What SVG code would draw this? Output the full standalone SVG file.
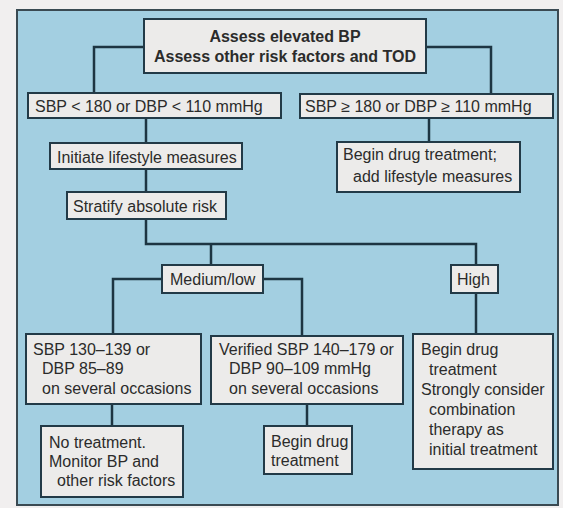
<svg xmlns="http://www.w3.org/2000/svg" width="563" height="508" viewBox="0 0 563 508">
<style>
.box{fill:#ecebea;stroke:#223a47;stroke-width:2}
.t{font-family:"Liberation Sans",Arial,sans-serif;font-size:16px;fill:#2b2b2b}
.b{font-weight:bold}
.c{fill:none;stroke:#1d3542;stroke-width:2.5}
</style>
<rect x="0" y="0" width="563" height="508" fill="#f1efef"/>
<rect x="17" y="10" width="541" height="495" fill="#a3cfe1" stroke="#3a4a52" stroke-width="2"/>
<g id="connectors">
<path class="c" d="M144,47 H94 V93"/>
<path class="c" d="M426,47 H491 V94"/>
<path class="c" d="M146,118 V143"/>
<path class="c" d="M429,118 V142"/>
<path class="c" d="M146,169 V192"/>
<path class="c" d="M146,219 V244 H476 V265"/>
<path class="c" d="M211,244 V265"/>
<path class="c" d="M162,279 H113 V334"/>
<path class="c" d="M263,279 H302 V336"/>
<path class="c" d="M476,293 V334"/>
<path class="c" d="M112,404 V426"/>
<path class="c" d="M307,404 V426"/>
</g>
<g id="assess">
<rect class="box" x="144" y="19" width="282" height="54"/>
<text class="t b" x="285" y="42" text-anchor="middle">Assess elevated BP</text>
<text class="t b" x="285" y="62" text-anchor="middle">Assess other risk factors and TOD</text>
</g>
<g id="sbp-low">
<rect class="box" x="28" y="93" width="253" height="25"/>
<text class="t" x="35" y="112">SBP &lt; 180 or DBP &lt; 110 mmHg</text>
</g>
<g id="sbp-high">
<rect class="box" x="300" y="94" width="253" height="24"/>
<text class="t" x="305" y="112">SBP ≥ 180 or DBP ≥ 110 mmHg</text>
</g>
<g id="lifestyle">
<rect class="box" x="50" y="143" width="192" height="26"/>
<text class="t" x="57" y="163">Initiate lifestyle measures</text>
</g>
<g id="begin-drug-1">
<rect class="box" x="337" y="142" width="183" height="50"/>
<text class="t" x="343" y="160">Begin drug treatment;</text>
<text class="t" x="353" y="182">add lifestyle measures</text>
</g>
<g id="stratify">
<rect class="box" x="67" y="192" width="159" height="27"/>
<text class="t" x="73" y="212">Stratify absolute risk</text>
</g>
<g id="medium-low">
<rect class="box" x="162" y="265" width="101" height="28"/>
<text class="t" x="170" y="285">Medium/low</text>
</g>
<g id="high">
<rect class="box" x="451" y="265" width="47" height="28"/>
<text class="t" x="457" y="285">High</text>
</g>
<g id="sbp-130">
<rect class="box" x="26" y="334" width="175" height="70"/>
<text class="t" x="33" y="355">SBP 130–139 or</text>
<text class="t" x="42" y="374">DBP 85–89</text>
<text class="t" x="42" y="394">on several occasions</text>
</g>
<g id="verified">
<rect class="box" x="211" y="336" width="192" height="68"/>
<text class="t" x="219" y="355">Verified SBP 140–179 or</text>
<text class="t" x="229" y="374">DBP 90–109 mmHg</text>
<text class="t" x="229" y="394">on several occasions</text>
</g>
<g id="begin-drug-high">
<rect class="box" x="413" y="334" width="140" height="135"/>
<text class="t" x="421" y="355">Begin drug</text>
<text class="t" x="429" y="375">treatment</text>
<text class="t" x="421" y="395">Strongly consider</text>
<text class="t" x="429" y="415">combination</text>
<text class="t" x="429" y="435">therapy as</text>
<text class="t" x="429" y="455">initial treatment</text>
</g>
<g id="no-treatment">
<rect class="box" x="41" y="426" width="142" height="71"/>
<text class="t" x="49" y="448">No treatment.</text>
<text class="t" x="49" y="467">Monitor BP and</text>
<text class="t" x="57" y="486">other risk factors</text>
</g>
<g id="begin-drug-mid">
<rect class="box" x="264" y="426" width="88" height="48"/>
<text class="t" x="271" y="447">Begin drug</text>
<text class="t" x="271" y="466">treatment</text>
</g>
</svg>
